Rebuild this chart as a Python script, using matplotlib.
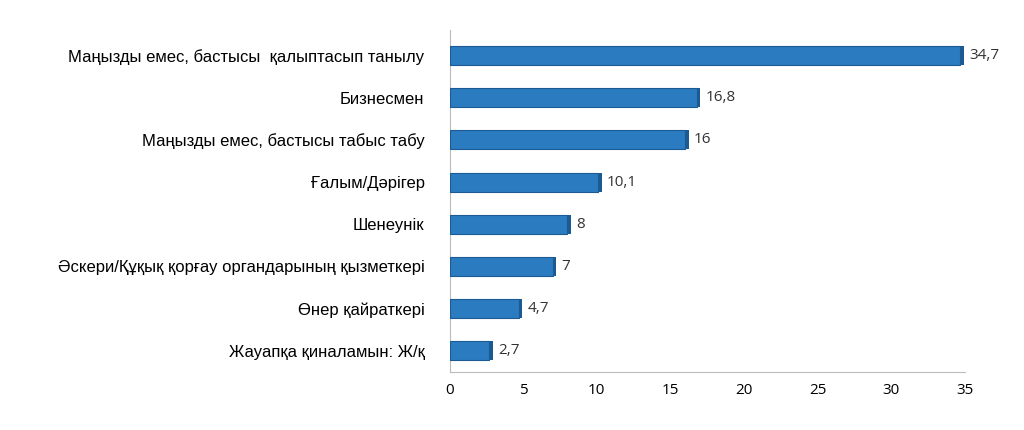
import matplotlib
matplotlib.use("Agg")
import matplotlib.pyplot as plt

categories = ["Маңызды емес, бастысы  қалыптасып танылу", "Бизнесмен",
              "Маңызды емес, бастысы табыс табу", "Ғалым/Дәрігер", "Шенеунік",
              "Әскери/Құқық қорғау органдарының қызметкері", "Өнер қайраткері",
              "Жауапқа қиналамын: Ж/қ"]
values = [34.7, 16.8, 16, 10.1, 8, 7, 4.7, 2.7]
labels = ["34,7", "16,8", "16", "10,1", "8", "7", "4,7", "2,7"]
ticks = [0, 5, 10, 15, 20, 25, 30, 35]

fig = plt.figure(figsize=(10.24, 4.3), dpi=100)
ax = fig.add_axes([0.439, 0.135, 0.503, 0.795])
y = list(range(len(categories)))[::-1]
ax.barh(y, values, height=0.45, color="#2B7BC0", edgecolor="#1B5A93", linewidth=0.8, zorder=3)
# darker end caps for 3D feel
ax.barh(y, [0.25]*len(values), left=values, height=0.45, color="#1B5A93", zorder=3)
for yi, v, t in zip(y, values, labels):
    ax.text(v + 0.6, yi, t, va="center", ha="left", fontsize=11, family="Open Sans", color="#333333")
ax.set_xlim(0, 35)
ax.set_ylim(-0.5, 7.6)
ax.set_yticks(y)
ax.set_yticklabels(categories, fontsize=12, family="Liberation Sans")
ax.set_xticks(ticks)
ax.set_xticklabels([str(t) for t in ticks], fontsize=11, family="Open Sans")
for s in ["top", "right"]:
    ax.spines[s].set_visible(False)
ax.spines["left"].set_color("#BBBBBB")
ax.spines["bottom"].set_color("#BBBBBB")
ax.tick_params(axis="y", length=0, pad=18)
ax.tick_params(axis="x", length=0, pad=8)
fig.savefig("out.png", dpi=100)
